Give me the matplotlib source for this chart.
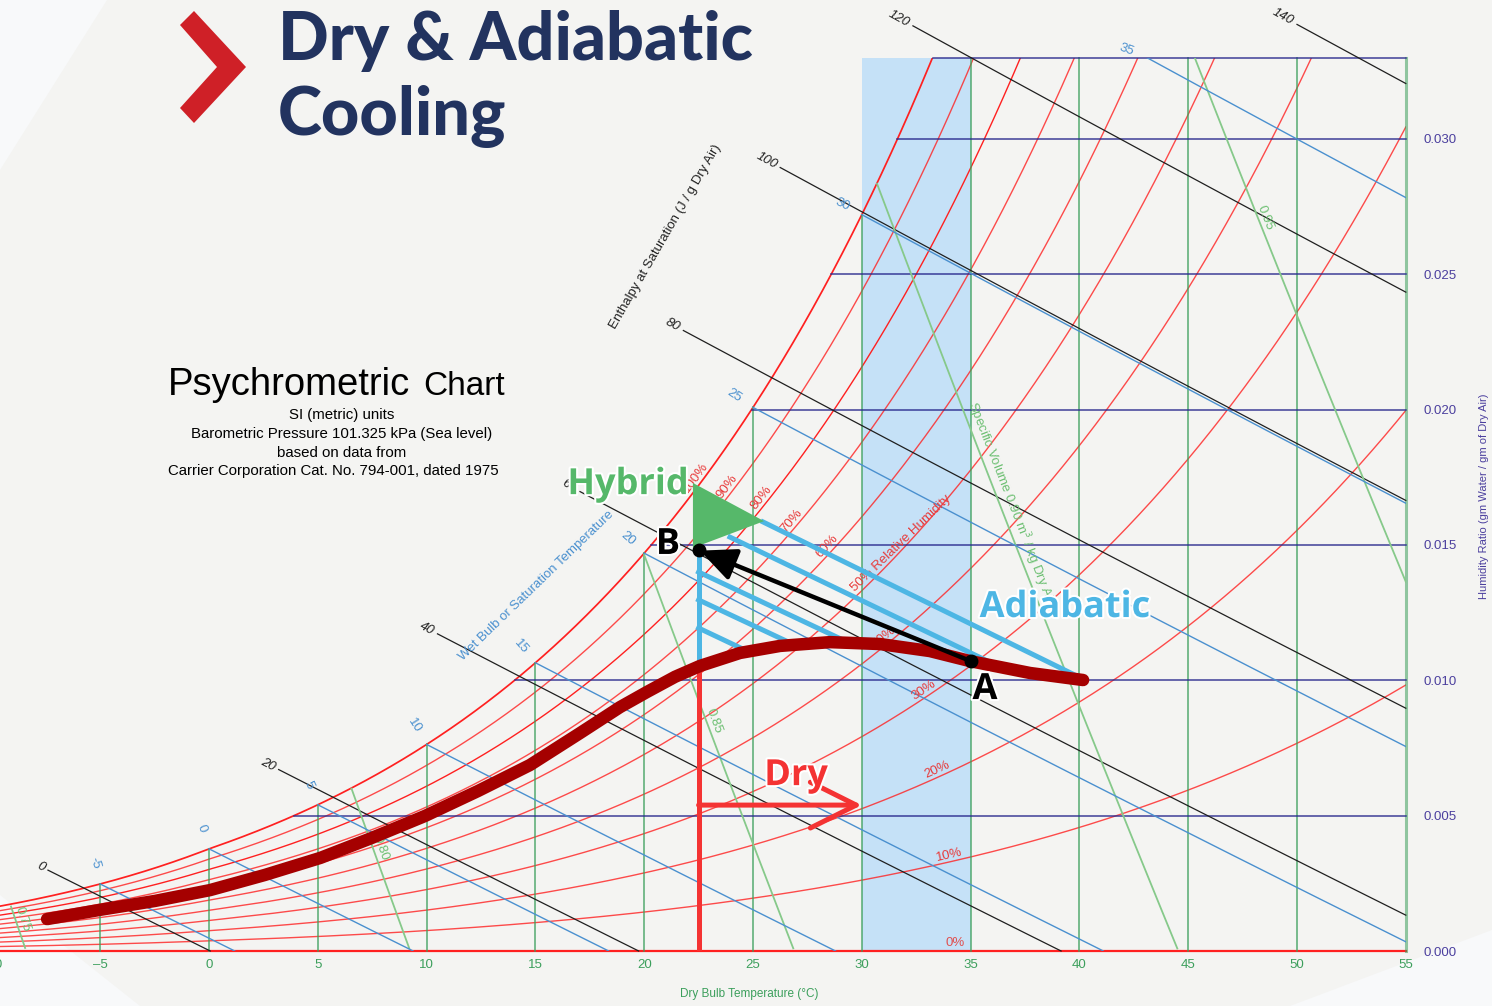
import numpy as np
import matplotlib.pyplot as plt
import matplotlib.patheffects as pe
from matplotlib.patches import Polygon, FancyArrowPatch

P = 101325.0

# ---- chart grid values
rh_levels = [0.1, 0.2, 0.3, 0.4, 0.5, 0.6, 0.7, 0.8, 0.9, 1.0]
rh_label_T = [34.1, 33.6, 33.0, 31.2, 29.8, 28.6, 27.0, 25.6, 24.05, 22.6]
rh_labels = ['10%', '20%', '30%', '40%', '50% Relative Humidity', '60%', '70%', '80%', '90%', '100%']
db_temps = [-5, 0, 5, 10, 15, 20, 25, 30, 35, 40, 45, 50, 55]
w_lines = [0.005, 0.010, 0.015, 0.020, 0.025, 0.030, 0.033]
wb_temps = [-5, 0, 5, 10, 15, 20, 25, 30, 35]
enth_vals = [0, 20, 40, 60, 80, 100, 120, 140]
enth_start_T = [-7.4, 3.2, 10.5, 17.05, 21.8, 26.25, 32.35, 50.0]
vol_vals = [0.75, 0.80, 0.85, 0.90, 0.95]
vol_label_W = [0.0010, 0.0036, 0.0083, 0.0163, 0.0269]
vol_labels = ['0.75', '0.80', '0.85', 'Specific Volume 0.90 m$^3$ / kg Dry Air', '0.95']
x_ticks = [-10, -5, 0, 5, 10, 15, 20, 25, 30, 35, 40, 45, 50, 55]
x_ticklabels = ['\u201310', '\u20135', '0', '5', '10', '15', '20', '25', '30', '35', '40', '45', '50', '55']
y_ticks = [0.0, 0.005, 0.010, 0.015, 0.020, 0.025, 0.030]
y_ticklabels = ['0.000', '0.005', '0.010', '0.015', '0.020', '0.025', '0.030']
band_T = [30, 35]

# ---- overlay (process) data
climate_T = [-7.44, -5.01, -2.48, 0.05, 2.57, 5.12, 7.49, 9.93, 12.36, 14.75, 17.05, 18.89, 20.13,
             21.42, 22.56, 24.4, 26.24, 28.54, 30.84, 33.13, 34.97, 37.73, 40.17]
climate_W = [0.00118, 0.00152, 0.00185, 0.00225, 0.00281, 0.00344, 0.00418, 0.00499, 0.00591,
             0.00687, 0.00805, 0.00901, 0.00957, 0.01013, 0.01053, 0.01101, 0.01127, 0.01141,
             0.01134, 0.01108, 0.01071, 0.01027, 0.01001]
point_A = (35.0, 0.01071)
point_B = (22.5, 0.01481)
supply_T = 22.5
adiab_start_T = [25.46, 23.94, 22.5, 22.5, 22.5]
adiab_start_W = [0.01585, 0.01529, 0.0140, 0.01297, 0.01193]
adiab_end_T = [39.7, 36.35, 29.24, 26.93, 24.63]
adiab_end_W = [0.01023, 0.01049, 0.01145, 0.0113, 0.01112]
adiab_vert_W = [0.01049, 0.01481]
dry_vert_W = [0.0, 0.0105]
dry_arrow_T = [22.5, 30.0]
dry_arrow_W = 0.00539
hybrid_T = [22.24, 22.24, 25.51]
hybrid_W = [0.01729, 0.01489, 0.01588]


def pws(t):
    T = np.asarray(t, float) + 273.15
    ice = (-5674.5359 / T + 6.3925247 - 9.677843e-3 * T + 6.2215701e-7 * T**2
           + 2.0747825e-9 * T**3 - 9.484024e-13 * T**4 + 4.1635019 * np.log(T))
    wat = (-5800.2206 / T + 1.3914993 - 0.048640239 * T + 4.1764768e-5 * T**2
           - 1.4452093e-8 * T**3 + 6.5459673 * np.log(T))
    return np.exp(np.where(T < 273.15, ice, wat))


def w_from_pw(pw):
    return 0.621945 * pw / (P - pw)


def w_sat(t):
    return w_from_pw(pws(t))


def w_wetbulb(t, twb):
    ws = w_sat(twb)
    return ((2501 - 2.326 * twb) * ws - 1.006 * (t - twb)) / (2501 + 1.86 * t - 4.186 * twb)


def h_sat(t):
    return 1.006 * t + w_sat(t) * (2501 + 1.86 * t)


def w_vol(t, v):
    return (v * P / (287.042 * (np.asarray(t) + 273.15)) - 1) / 1.607858


tgrid = np.linspace(-10, 55, 1301)

# colours
c_rh = '#ff2020'
c_db = '#3c9f5c'
c_w = '#2a2a8e'
c_wb = '#4a90cf'
c_h = '#1f1f1f'
c_v = '#86c98a'
c_purple = '#4b3f9e'
c_title = '#22335f'
c_blue = '#4db6e4'
c_green = '#56b86a'
c_red = '#f43333'
c_dark = '#a50000'

fig = plt.figure(figsize=(14.92, 10.06), dpi=100, facecolor='#f4f4f2')
# lighter background corners
for poly in ([(0, 1), (107 / 1492, 1), (0, 1 - 170 / 1006)],
             [(0, 1 - 895 / 1006), (0, 0), (140 / 1492, 0)],
             [(1290 / 1492, 0), (1, 0), (1, 76 / 1006)]):
    fig.patches.append(Polygon(poly, closed=True, transform=fig.transFigure,
                               facecolor='#f8f9fa', edgecolor='none', zorder=0))

ax = fig.add_axes([-8.6 / 1492, 55 / 1006, 1414.4 / 1492, 893.3 / 1006])
ax.set_zorder(2)
ax.set_facecolor('none')
ax.set_xlim(-10, 55)
ax.set_ylim(0, 0.033)
for s in ax.spines.values():
    s.set_visible(False)

ax.set_xticks(x_ticks)
ax.set_xticklabels(x_ticklabels, color=c_db, fontsize=9.5, family='Liberation Sans')
ax.yaxis.tick_right()
ax.set_yticks(y_ticks)
ax.set_yticklabels(y_ticklabels, color=c_purple, fontsize=9.5, family='Liberation Sans')
ax.tick_params(axis='x', length=0, pad=6)
ax.tick_params(axis='y', length=0, pad=13)


def angle(t1, w1, t2, w2):
    (x1, y1), (x2, y2) = ax.transData.transform([(t1, w1), (t2, w2)])
    return np.degrees(np.arctan2(y2 - y1, x2 - x1))


def put(t, w, s, rot=0, dx=0, dy=0, **kw):
    ax.annotate(s, (t, w), xytext=(dx, dy), textcoords='offset pixels', rotation=rot,
                rotation_mode='anchor', annotation_clip=False, **kw)


# shaded band
ax.axvspan(band_T[0], band_T[1], ymin=0, ymax=1, color='#c5e1f7', lw=0, zorder=0.5)

# relative humidity curves
for rh, lt, lab in zip(rh_levels, rh_label_T, rh_labels):
    w = w_from_pw(rh * pws(tgrid))
    ax.plot(tgrid, w, color=c_rh, lw=1.25 if rh == 1.0 else 1.0,
            alpha=1.0 if rh in (0.8, 1.0) else 0.8, zorder=2)
    wl = w_from_pw(rh * pws(lt))
    a = angle(lt - 0.2, w_from_pw(rh * pws(lt - 0.2)), lt + 0.2, w_from_pw(rh * pws(lt + 0.2)))
    put(lt, wl, lab, rot=a, dy=1, ha='left' if rh == 0.5 else 'center', va='bottom',
        color='#e83a3a', fontsize=9.5, family='Liberation Sans', zorder=3)
ax.plot([-10, 55], [0, 0], color=c_rh, lw=1.6, zorder=2, clip_on=False)
put(34.3, 0.0003, '0%', color='#e05050', fontsize=9.5, family='Liberation Sans',
    ha='center', va='center')

# dry bulb lines
for t in db_temps:
    top = min(float(w_sat(t)), 0.033)
    ax.plot([t, t], [0, top], color=c_db, lw=2.2 if t == 55 else 1.2,
            alpha=0.55 if t == 55 else 0.8, zorder=2, clip_on=False)

# humidity ratio lines
wsg = w_sat(tgrid)
for w in w_lines:
    tdp = np.interp(w, wsg, tgrid)
    ax.plot([tdp, 55], [w, w], color=c_w, lw=1.1, alpha=0.9, zorder=2, clip_on=False)

# enthalpy (at saturation) lines
hsg = h_sat(tgrid)
for h, ts in zip(enth_vals, enth_start_T):
    twb = np.interp(h, hsg, tgrid)
    t0 = twb + (2501 - 2.326 * twb) * w_sat(twb) / 1.006
    te = min(t0, 55)
    tt = np.linspace(ts, te, 200)
    ww = np.clip(w_wetbulb(tt, twb), 0, None)
    ax.plot(tt, ww, color=c_h, lw=0.9, zorder=2.2, clip_on=False)
    a = angle(tt[0], ww[0], tt[1], ww[1])
    put(tt[0], ww[0], str(h), rot=a, dx=-4, dy=2, ha='right', va='center',
        color=c_h, fontsize=9.5, family='Liberation Sans', style='italic')

# wet bulb lines
for twb in wb_temps:
    t0 = twb + (2501 - 2.326 * twb) * w_sat(twb) / 1.006
    tt = np.linspace(twb, min(t0, 55), 200)
    ww = np.clip(w_wetbulb(tt, twb), 0, None)
    ax.plot(tt, ww, color=c_wb, lw=1.0, zorder=2.4)
    ws0 = float(w_sat(twb))
    if ws0 > 0.033:
        ta = np.interp(0.033, ww[::-1], tt[::-1])
        wa = 0.033
    else:
        ta, wa = twb, ws0
    s = angle(twb - 0.2, w_sat(twb - 0.2), twb + 0.2, w_sat(twb + 0.2))
    n = np.radians(s + 90)
    put(ta, wa, str(twb), rot=s - 90, dx=22 * np.cos(n), dy=22 * np.sin(n),
        ha='center', va='center', color=c_wb, fontsize=9.5, family='Liberation Sans')

# specific volume lines
for v, lw_, lab in zip(vol_vals, vol_label_W, vol_labels):
    ww = w_vol(tgrid, v)
    ok = (ww >= 0) & (ww <= wsg)
    ax.plot(tgrid[ok], ww[ok], color=c_v, lw=1.3, zorder=2.3)
    tl = np.interp(lw_, ww[::-1], tgrid[::-1])
    a = angle(np.interp(lw_ + 0.0005, ww[::-1], tgrid[::-1]), lw_ + 0.0005,
              np.interp(lw_ - 0.0005, ww[::-1], tgrid[::-1]), lw_ - 0.0005)
    put(tl, lw_, lab, rot=a, dy=3, ha='center', va='bottom', color='#6cbf72',
        fontsize=9.5, family='Liberation Sans')

put(15.03, 0.01348, 'Wet Bulb or Saturation Temperature', rot=44, ha='center', va='center',
    color=c_wb, fontsize=9.5, family='Liberation Sans')
put(21.0, 0.02638, 'Enthalpy at Saturation (J / g Dry Air)', rot=60, ha='center', va='center',
    color='#222222', fontsize=9.5, family='Liberation Sans')

# ---- process overlay
ax.plot(climate_T, climate_W, color=c_dark, lw=9, solid_capstyle='round',
        solid_joinstyle='round', zorder=6)

ax.plot([supply_T, supply_T], dry_vert_W, color=c_red, lw=3.6, zorder=5)
ax.add_patch(FancyArrowPatch((dry_arrow_T[0], dry_arrow_W), (dry_arrow_T[1], dry_arrow_W),
                             arrowstyle='->,head_length=1.1,head_width=0.55', mutation_scale=30,
                             color=c_red, lw=3.6, zorder=5, shrinkA=0, shrinkB=0))

ax.plot([supply_T, supply_T], adiab_vert_W, color=c_blue, lw=3.6, zorder=5)
for t1, w1, t2, w2 in zip(adiab_start_T, adiab_start_W, adiab_end_T, adiab_end_W):
    ax.plot([t1, t2], [w1, w2], color=c_blue, lw=3.6, zorder=5)

ax.add_patch(Polygon(list(zip(hybrid_T, hybrid_W)), closed=True, facecolor=c_green,
                     edgecolor='none', zorder=7))

ax.add_patch(FancyArrowPatch(point_A, point_B, arrowstyle='-|>,head_length=1.1,head_width=0.5',
                             mutation_scale=20, color='black', lw=3.2, zorder=8,
                             shrinkA=0, shrinkB=1))
ax.plot([point_A[0], point_B[0]], [point_A[1], point_B[1]], 'o', color='black', ms=9, zorder=9)

stroke = [pe.withStroke(linewidth=3, foreground='white')]
big = dict(family='Open Sans', weight='bold', fontsize=26, ha='center', va='center',
           zorder=10, path_effects=stroke)
put(19.26, 0.01721, 'Hybrid', color=c_green, **big)
put(39.34, 0.01267, 'Adiabatic', color=c_blue, **big)
put(26.98, 0.00646, 'Dry', color=c_red, **big)
put(35.66, 0.00964, 'A', color='black', **big)
put(21.09, 0.0150, 'B', color='black', **big)

# ---- figure texts
fig.text(749 / 1492, 1 - 994 / 1006, 'Dry Bulb Temperature (\u00b0C)', color=c_db,
         fontsize=8.5, family='Liberation Sans', ha='center', va='center')
fig.text(1484 / 1492, 1 - 496 / 1006, 'Humidity Ratio (gm Water / gm of Dry Air)', color=c_purple,
         fontsize=8, family='Liberation Sans', ha='center', va='center', rotation=90)

fig.text(168 / 1492, 1 - 395 / 1006, 'Psychrometric', fontsize=27.5, family='Liberation Sans',
         color='black', ha='left', va='baseline')
fig.text(505 / 1492, 1 - 395 / 1006, 'Chart', fontsize=24, family='Liberation Sans',
         color='black', ha='right', va='baseline')
sub = [('SI (metric) units', 342, 415), ('Barometric Pressure 101.325 kPa (Sea level)', 342, 434),
       ('based on data from', 342, 453), ('Carrier Corporation Cat. No. 794-001, dated 1975', 333, 471)]
for s, x, y in sub:
    fig.text(x / 1492, 1 - y / 1006, s, fontsize=10.8, family='Liberation Sans', color='black',
             ha='center', va='center')

fig.text(278 / 1492, 1 - 60 / 1006, 'Dry & Adiabatic', fontsize=48, family='Lato', weight=900,
         color=c_title, ha='left', va='baseline')
fig.text(278 / 1492, 1 - 135 / 1006, 'Cooling', fontsize=48, family='Lato', weight=900,
         color=c_title, ha='left', va='baseline')
chev = [(180, 25), (194, 11), (246, 67), (194, 123), (180, 108), (217, 67)]
fig.patches.append(Polygon([(x / 1492, 1 - y / 1006) for x, y in chev], closed=True,
                           transform=fig.transFigure, facecolor='#cf2027', edgecolor='none', zorder=5))

fig.savefig('out.png', dpi=100, facecolor=fig.get_facecolor())
